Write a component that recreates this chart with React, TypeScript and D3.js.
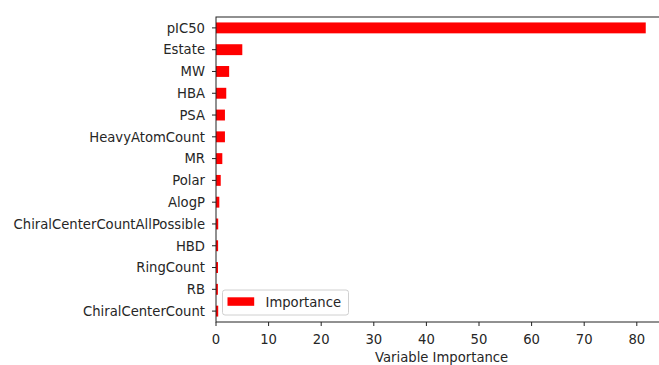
import React from "react";
import * as d3 from "d3";

const categories = [
  "pIC50", "Estate", "MW", "HBA", "PSA", "HeavyAtomCount", "MR", "Polar",
  "AlogP", "ChiralCenterCountAllPossible", "HBD", "RingCount", "RB", "ChiralCenterCount",
];
const importance = [81.7, 5.0, 2.5, 1.95, 1.7, 1.7, 1.2, 0.9, 0.63, 0.42, 0.4, 0.38, 0.36, 0.42];
const xTicks = [0, 10, 20, 30, 40, 50, 60, 70, 80];
const seriesName = "Importance";
const xLabel = "Variable Importance";

const W = 659, H = 365;
const left = 216, top = 17, bottom = 322;
const font = "'DejaVu Sans', sans-serif";
const textColor = "#262626";
const fs = 13.2;

export default function App() {
  const xMax = d3.max(importance)! * 1.05;
  const x = d3.scaleLinear().domain([0, xMax]).range([left, left + xMax * 5.26]);
  const right = x(xMax);
  const y = d3.scaleBand<string>().domain(categories).range([top, bottom]).paddingInner(0.5).paddingOuter(0.25);

  return (
    <svg width={W} height={H} style={{ position: "absolute", left: 0, top: 0 }} fontFamily={font}>
      <rect x={0} y={0} width={W} height={H} fill="#fff" />
      {categories.map((c, i) => (
        <rect key={c} x={x(0)} y={y(c)!} width={x(importance[i]) - x(0)} height={y.bandwidth()} fill="#ff0000" />
      ))}
      {/* spines */}
      <rect x={left} y={top} width={right - left} height={bottom - top} fill="none" stroke="#222" strokeWidth={1} />
      {/* y ticks */}
      {categories.map((c) => {
        const cy = y(c)! + y.bandwidth() / 2;
        return (
          <g key={c}>
            <line x1={left - 4} x2={left} y1={cy} y2={cy} stroke="#222" strokeWidth={1} />
            <text x={left - 11} y={cy} dy="0.36em" textAnchor="end" fontSize={fs} fill={textColor}>{c}</text>
          </g>
        );
      })}
      {/* x ticks */}
      {xTicks.map((t) => (
        <g key={t}>
          <line x1={x(t)} x2={x(t)} y1={bottom} y2={bottom + 4} stroke="#222" strokeWidth={1} />
          <text x={x(t)} y={343.5} textAnchor="middle" fontSize={fs} fill={textColor}>{t}</text>
        </g>
      ))}
      <text x={(left + right) / 2} y={361.5} textAnchor="middle" fontSize={fs} fill={textColor}>{xLabel}</text>
      {/* legend */}
      <rect x={222.5} y={290} width={126} height={25} rx={2.5} fill="#fff" fillOpacity={0.8} stroke="#d0d0d0" strokeWidth={1} />
      <rect x={227.5} y={297.3} width={26.7} height={8.5} fill="#ff0000" />
      <text x={265.5} y={307} fontSize={fs} fill={textColor}>{seriesName}</text>
    </svg>
  );
}
